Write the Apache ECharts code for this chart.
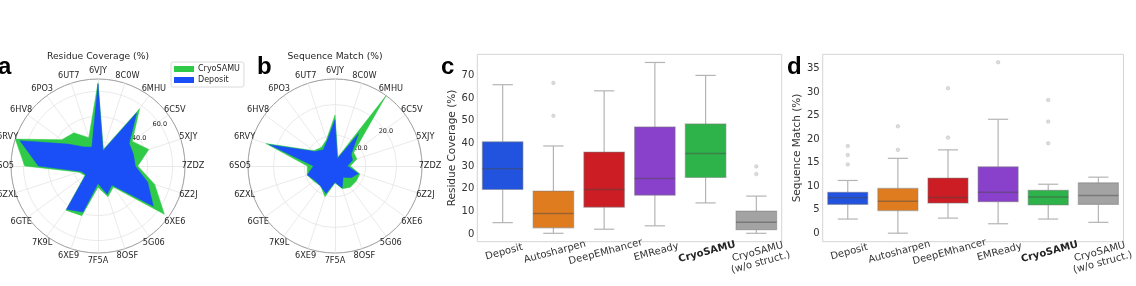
<!DOCTYPE html>
<html><head><meta charset="utf-8">
<script src="https://cdn.jsdelivr.net/npm/echarts@6/dist/echarts.min.js"></script>
<style>html,body{margin:0;padding:0;background:#fff}#c{width:1136px;height:286px}</style>
</head><body><div id="c"></div>
<script>
// ---- data ----
const radarNames = ['6VJY','8C0W','6MHU','6C5V','5XJY','7ZDZ','6Z2J','6XE6','5G06','8OSF','7F5A','6XE9','7K9L','6GTE','6ZXL','6SO5','6RVY','6HV8','6PO3','6UT7'];
const coverageDeposit  = [66, 13, 53, 31, 30, 30, 42, 55, 19, 24, 14, 39, 43, 12, 14, 48, 66, 30, 19, 16];
const coverageCryoSAMU = [67, 14, 57, 34, 43, 32, 48, 66, 21, 26, 17, 42, 44, 13, 16, 59, 70, 36, 33, 24];
const matchDeposit  = [15, 2.5, 13, 6.5, 6, 4, 8, 6.5, 4.5, 7.5, 5.3, 9.4, 8, 8, 9.5, 7, 22.5, 8, 6.5, 8.5];
const matchCryoSAMU = [16.6, 3, 28.3, 7.5, 7.5, 5, 8.5, 8.5, 8.5, 7.8, 5.5, 10.5, 8, 8.5, 9.5, 9, 23.6, 8.5, 7.5, 9];
const coverageMax = 70, matchMax = 28.3;

const methods = ['Deposit','Autosharpen','DeepEMhancer','EMReady','CryoSAMU','CryoSAMU\n(w/o struct.)'];
// [low whisker, Q1, median, Q3, high whisker]
const coverageBoxes = [
  [5.1, 19.7, 28.9, 40.7, 65.9],
  [0.4, 2.8, 9.1, 19.0, 38.9],
  [2.2, 11.9, 19.7, 36.2, 63.2],
  [3.7, 17.2, 24.6, 47.3, 75.7],
  [13.8, 25.0, 35.6, 48.6, 70.0],
  [0.4, 2.0, 5.3, 10.2, 16.8]
];
const coverageOutliers = [[], [66.7, 52.2], [], [], [], [29.9, 26.5]];
const matchBoxes = [
  [3.0, 6.1, 7.5, 8.7, 11.2],
  [0.0, 4.8, 6.8, 9.5, 15.9],
  [3.2, 6.4, 7.6, 11.7, 17.7],
  [2.0, 6.7, 8.7, 14.1, 24.2],
  [3.0, 6.0, 7.7, 9.1, 10.4],
  [2.3, 6.1, 8.0, 10.7, 11.9]
];
const matchOutliers = [[18.5, 16.6, 14.6], [22.7, 17.7], [30.8, 20.3], [36.3], [28.3, 23.7, 19.1], []];
const coverageTicks = {min: -3.3, max: 79.3, step: 10};
const matchTicks = {min: -1.81, max: 38.0, step: 5};

// ---- style ----
const FONT = 'DejaVu Sans';
const boxColors = ['#2253df','#df7c20','#cc1d24','#8941cb','#2eb24a','#a3a3a3'];
const radarBlue = '#1a4ef6', radarGreen = '#2fcb48';
const R = 87;

// radar indicators go counter-clockwise in ECharts; reorder to clockwise layout
const order = [0].concat(Array.from({length: radarNames.length - 1}, (_, i) => radarNames.length - 1 - i));
const reorder = arr => order.map(i => arr[i]);

function radarCfg(cx, cy, max) {
  return {
    center: [cx, cy], radius: R, startAngle: 90, shape: 'circle', splitNumber: 1,
    indicator: reorder(radarNames).map(n => ({name: n, min: 0, max: max})),
    nameGap: 8,
    axisName: {color: '#262626', fontSize: 8.2, fontFamily: FONT, align: 'center', verticalAlign: 'middle'},
    splitLine: {show: false}, splitArea: {show: false},
    axisLine: {lineStyle: {color: '#e4e4e4', width: 0.8}},
    axisTick: {show: false}, axisLabel: {show: false}
  };
}
function polarCfg(cx, cy) { return {center: [cx, cy], radius: R}; }
function angleCfg(pi) {
  return {polarIndex: pi, type: 'value', min: 0, max: 360, startAngle: 34, clockwise: false,
    axisLine: {lineStyle: {color: '#9a9a9a', width: 0.9}}, axisTick: {show: false},
    axisLabel: {show: false}, splitLine: {show: false}};
}
function radiusCfg(pi, max, step) {
  return {polarIndex: pi, type: 'value', min: 0, max: max, interval: step,
    axisLine: {show: false}, axisTick: {show: false},
    axisLabel: {showMinLabel: false, showMaxLabel: false, fontSize: 6.5, fontFamily: FONT, color: '#262626',
      formatter: v => v.toFixed(1), margin: 0, align: 'center', verticalAlign: 'middle'},
    splitLine: {lineStyle: {color: '#e4e4e4', width: 0.8}}, z: 0};
}
function radarSeries(ri, name, vals, color, z) {
  return {type: 'radar', radarIndex: ri, name: name, symbol: 'none', z: z, silent: true,
    lineStyle: {color: color, width: 0.5}, itemStyle: {color: color},
    areaStyle: {color: color, opacity: 1},
    data: [{name: name, value: reorder(vals)}]};
}

function boxSeries(gi, boxes) {
  return {type: 'custom', xAxisIndex: gi, yAxisIndex: gi, z: 3,
    data: boxes.map((b, i) => [i].concat(b)),
    renderItem: function (params, api) {
      const i = api.value(0);
      const lo = api.coord([i, api.value(1)]), q1 = api.coord([i, api.value(2)]),
            md = api.coord([i, api.value(3)]), q3 = api.coord([i, api.value(4)]),
            hi = api.coord([i, api.value(5)]);
      const w = api.size([1, 0])[0] * 0.8, x = lo[0];
      const lc = '#b4b4b4';
      return {type: 'group', children: [
        {type: 'line', shape: {x1: x, y1: hi[1], x2: x, y2: q3[1]}, style: {stroke: lc, lineWidth: 1.2}},
        {type: 'line', shape: {x1: x, y1: q1[1], x2: x, y2: lo[1]}, style: {stroke: lc, lineWidth: 1.2}},
        {type: 'line', shape: {x1: x - w / 4, y1: hi[1], x2: x + w / 4, y2: hi[1]}, style: {stroke: lc, lineWidth: 1.2}},
        {type: 'line', shape: {x1: x - w / 4, y1: lo[1], x2: x + w / 4, y2: lo[1]}, style: {stroke: lc, lineWidth: 1.2}},
        {type: 'rect', shape: {x: x - w / 2, y: q3[1], width: w, height: q1[1] - q3[1]},
          style: {fill: boxColors[i], stroke: 'rgba(120,120,120,0.45)', lineWidth: 1.2}},
        {type: 'line', shape: {x1: x - w / 2, y1: md[1], x2: x + w / 2, y2: md[1]},
          style: {stroke: 'rgba(70,70,70,0.45)', lineWidth: 1.5}}
      ]};
    }};
}
function outlierSeries(gi, outs) {
  const d = [];
  outs.forEach((arr, i) => arr.forEach(v => d.push([i, v])));
  return {type: 'scatter', xAxisIndex: gi, yAxisIndex: gi, z: 4, symbol: 'circle', symbolSize: 3.5,
    itemStyle: {color: '#d6d6d6', borderColor: '#b8b8b8', borderWidth: 0.6}, data: d};
}
function xCfg(gi) {
  return {gridIndex: gi, type: 'category', data: methods, boundaryGap: true,
    axisLine: {show: false}, axisTick: {show: false}, splitLine: {show: false},
    axisLabel: {interval: 0, rotate: 15, fontSize: 10, fontFamily: FONT, color: '#333', margin: 5,
      align: 'center', verticalAlign: 'top', lineHeight: 11,
      formatter: v => v === 'CryoSAMU' ? '{b|CryoSAMU}' : v,
      rich: {b: {fontWeight: 'bold', fontSize: 10, fontFamily: FONT, color: '#222'}}}};
}
function yCfg(gi, name, t, gap) {
  return {gridIndex: gi, type: 'value', min: t.min, max: t.max, minInterval: t.step, maxInterval: t.step,
    name: name, nameLocation: 'middle', nameGap: gap,
    nameTextStyle: {fontSize: 10.5, fontFamily: FONT, color: '#333'},
    axisLine: {show: false}, axisTick: {show: false}, splitLine: {show: false},
    axisLabel: {showMinLabel: false, showMaxLabel: false, fontSize: 10, fontFamily: FONT, color: '#333', margin: 3}};
}

const letter = (t, x) => ({text: t, left: x, top: 55, padding: 0,
  textStyle: {fontSize: 24, fontWeight: 'bold', fontFamily: 'Liberation Sans', color: '#000'}});
const subTitle = (t, x) => ({text: t, left: x, top: 52, padding: 0, textAlign: 'center',
  textStyle: {fontSize: 9.2, fontWeight: 'normal', fontFamily: FONT, color: '#262626'}});

const option = {
  animation: false,
  title: [letter('a', -2), letter('b', 257), letter('c', 441), letter('d', 787),
          subTitle('Residue Coverage (%)', 98), subTitle('Sequence Match (%)', 335)],
  legend: {data: ['CryoSAMU', 'Deposit'], orient: 'vertical', left: 171, top: 62,
    itemWidth: 20, itemHeight: 6, itemGap: 3, padding: [3, 4, 3, 3], borderColor: '#d0d0d0', borderWidth: 0.8, borderRadius: 2,
    icon: 'rect', textStyle: {fontSize: 8, fontFamily: FONT, color: '#262626', padding: [0, 0, 0, -1]}},
  polar: [polarCfg(98, 166), polarCfg(335, 166)],
  angleAxis: [angleCfg(0), angleCfg(1)],
  radiusAxis: [radiusCfg(0, coverageMax, 20), radiusCfg(1, matchMax, 10)],
  radar: [radarCfg(98, 166, coverageMax), radarCfg(335, 166, matchMax)],
  grid: [
    {left: 477.3, right: 354.3, top: 54.3, bottom: 44.3, show: true, borderColor: '#d4d4d4', borderWidth: 1, backgroundColor: 'transparent'},
    {left: 822.7, right: 8.7, top: 54.3, bottom: 44.3, show: true, borderColor: '#d4d4d4', borderWidth: 1, backgroundColor: 'transparent'}
  ],
  xAxis: [xCfg(0), xCfg(1)],
  yAxis: [yCfg(0, 'Residue Coverage (%)', coverageTicks, 16), yCfg(1, 'Sequence Match (%)', matchTicks, 16)],
  series: [
    radarSeries(0, 'CryoSAMU', coverageCryoSAMU, radarGreen, 2),
    radarSeries(0, 'Deposit', coverageDeposit, radarBlue, 3),
    radarSeries(1, 'CryoSAMU', matchCryoSAMU, radarGreen, 2),
    radarSeries(1, 'Deposit', matchDeposit, radarBlue, 3),
    boxSeries(0, coverageBoxes), outlierSeries(0, coverageOutliers),
    boxSeries(1, matchBoxes), outlierSeries(1, matchOutliers)
  ]
};
const chart = echarts.init(document.getElementById('c'), null, {renderer: 'canvas'});
chart.setOption(option);
</script></body></html>
